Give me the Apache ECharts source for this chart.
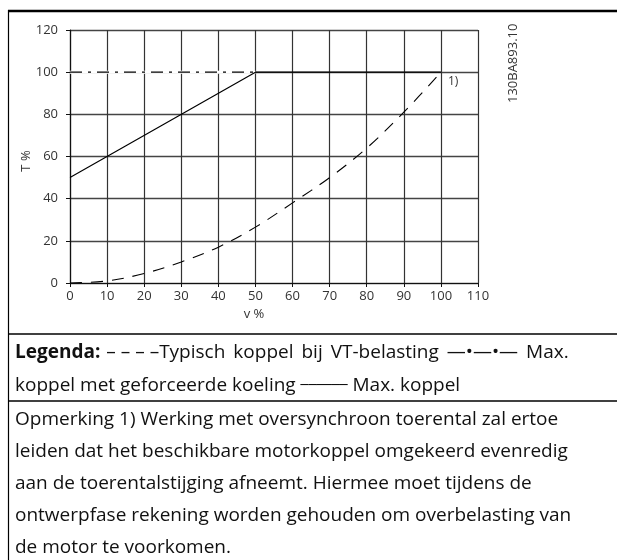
<!DOCTYPE html>
<html>
<head>
<meta charset="utf-8">
<script src="https://cdn.jsdelivr.net/npm/echarts@6/dist/echarts.min.js"></script>
<style>
  html, body { margin: 0; padding: 0; background: #fff; }
  #chart { width: 617px; height: 560px; }
</style>
</head>
<body>
<div id="chart"></div>
<script>
// Speed (v %) against torque (T %)
const speedTicks = [0, 10, 20, 30, 40, 50, 60, 70, 80, 90, 100, 110];
const torqueTicks = [0, 20, 40, 60, 80, 100, 120];

// Typical torque with VT load (dashed)
const vtSpeed  = [0, 10, 20, 30, 40, 50, 60, 70, 80, 90, 100];
const vtTorque = [0, 1, 4.5, 10, 17, 26.5, 38, 50, 64, 81, 100];

// Max. torque with forced cooling (dash-dot)
const coolSpeed  = [0, 50];
const coolTorque = [100, 100];

// Max. torque (solid)
const maxSpeed  = [0, 50, 100];
const maxTorque = [50, 100, 100];

const legendTitle = 'Legenda:';
const legendVt = 'Typisch koppel bij VT-belasting';
const legendCool = 'Max. koppel met geforceerde koeling';
const legendMax = 'Max. koppel';
const noteLines = [
  'Opmerking 1) Werking met oversynchroon toerental zal ertoe',
  'leiden dat het beschikbare motorkoppel omgekeerd evenredig',
  'aan de toerentalstijging afneemt. Hiermee moet tijdens de',
  'ontwerpfase rekening worden gehouden om overbelasting van',
  'de motor te voorkomen.'
];

const FONT = '"Open Sans", "Noto Sans", sans-serif';
const TXT = 19;
const pairs = (xs, ys) => xs.map((x, i) => [x, ys[i]]);

// legend rows: line samples are typed as glyphs inside the running text;
// the first row is set slightly justified, so its word gaps are a bit wider
const vtWords = legendVt.split(' ');
const coolWords = legendCool.split(' ');
const GAP = '{g| }';
const legendRow1 = '{b|' + legendTitle + '}{w| }{r|\u2013 \u2013 \u2013 \u2013' + vtWords[0] + '}'
  + vtWords.slice(1).map(w => GAP + '{r|' + w + '}').join('')
  + GAP + '{s|\u2014\u2022\u2014\u2022\u2014}' + GAP + '{r|' + coolWords[0] + '}';
const legendRow2 = '{r|' + coolWords.slice(1).join(' ') + ' }{l|\u2500\u2500\u2500\u2500\u2500\u2500}{r| ' + legendMax + '}';

const chart = echarts.init(document.getElementById('chart'), null, { renderer: 'canvas' });

chart.setOption({
  animation: false,
  backgroundColor: '#fff',
  grid: { left: 70, top: 30, width: 408, height: 253, containLabel: false },
  xAxis: {
    type: 'value', min: speedTicks[0], max: speedTicks[speedTicks.length - 1], interval: 10,
    axisLine: { show: true, lineStyle: { color: '#111', width: 1.2 } },
    axisTick: { show: true, length: 4, lineStyle: { color: '#111' } },
    axisLabel: { color: '#333', fontSize: 13, fontFamily: FONT, margin: 7 },
    splitLine: { show: true, lineStyle: { color: '#333', width: 1.2 } }
  },
  yAxis: {
    type: 'value', min: torqueTicks[0], max: torqueTicks[torqueTicks.length - 1], interval: 20,
    axisLine: { show: true, lineStyle: { color: '#111', width: 1.2 } },
    axisTick: { show: true, length: 4, lineStyle: { color: '#111' } },
    axisLabel: { color: '#333', fontSize: 13, fontFamily: FONT, margin: 12 },
    splitLine: { show: true, lineStyle: { color: '#444', width: 1.4 } }
  },
  series: [
    {
      name: legendVt, type: 'line', data: pairs(vtSpeed, vtTorque),
      smooth: 0.35, symbol: 'none', z: 5,
      lineStyle: { color: '#000', width: 1.1, type: [12, 9] },
      endLabel: { show: true, formatter: '1)', offset: [0, 9], distance: 7,
        color: '#333', fontSize: 12, fontFamily: FONT }
    },
    {
      // white underlay so the grid line does not show through the dash-dot gaps
      name: legendCool + ' (underlay)', type: 'line', data: pairs(coolSpeed, coolTorque),
      symbol: 'none', z: 4, silent: true,
      lineStyle: { color: '#fff', width: 3 }
    },
    {
      name: legendCool, type: 'line', data: pairs(coolSpeed, coolTorque),
      symbol: 'none', z: 5,
      lineStyle: { color: '#000', width: 1.1, type: [12, 6, 3, 6] }
    },
    {
      name: legendMax, type: 'line', data: pairs(maxSpeed, maxTorque),
      symbol: 'none', z: 6,
      lineStyle: { color: '#000', width: 1.2 }
    }
  ],
  graphic: [
    // page frame
    { type: 'line', shape: { x1: 8, y1: 11, x2: 617, y2: 11 }, style: { stroke: '#000', lineWidth: 2.5 } },
    { type: 'line', shape: { x1: 8.5, y1: 10, x2: 8.5, y2: 560 }, style: { stroke: '#000', lineWidth: 1.2 } },
    { type: 'line', shape: { x1: 8, y1: 334, x2: 617, y2: 334 }, style: { stroke: '#000', lineWidth: 1.5 } },
    { type: 'line', shape: { x1: 8, y1: 401, x2: 617, y2: 401 }, style: { stroke: '#000', lineWidth: 1.5 } },
    // axis titles and drawing code
    { type: 'text', x: 254, y: 314.5, style: { text: 'v %', font: '13px ' + FONT, fill: '#333', align: 'center', verticalAlign: 'middle' } },
    { type: 'text', x: 26.7, y: 161, rotation: Math.PI / 2, style: { text: 'T %', font: '13px ' + FONT, fill: '#333', align: 'center', verticalAlign: 'middle' } },
    { type: 'text', x: 513.5, y: 63.3, rotation: Math.PI / 2, style: { text: '130BA893.10', font: '13px ' + FONT, fill: '#333', align: 'center', verticalAlign: 'middle' } },
    // legend text
    {
      type: 'text', x: 15, y: 353,
      style: {
        text: legendRow1, verticalAlign: 'middle', fill: '#111',
        rich: {
          b: { fontFamily: FONT, fontSize: TXT, fontWeight: 'bold', fill: '#111' },
          r: { fontFamily: FONT, fontSize: TXT, fill: '#111' },
          w: { fontFamily: FONT, fontSize: TXT, width: 6 },
          g: { fontFamily: FONT, fontSize: TXT, width: 8 },
          s: { fontFamily: FONT, fontSize: TXT, fill: '#111' }
        }
      }
    },
    {
      type: 'text', x: 15, y: 386,
      style: {
        text: legendRow2, verticalAlign: 'middle', fill: '#111',
        rich: {
          r: { fontFamily: FONT, fontSize: TXT, fill: '#111' },
          l: { fontFamily: 'DejaVu Sans', fontSize: 13, fill: '#111' }
        }
      }
    },
    // note
    ...noteLines.map((t, i) => ({
      type: 'text', x: 15, y: 420 + i * 32,
      style: { text: t, font: TXT + 'px ' + FONT, fill: '#111', verticalAlign: 'middle' }
    }))
  ]
});
</script>
</body>
</html>
